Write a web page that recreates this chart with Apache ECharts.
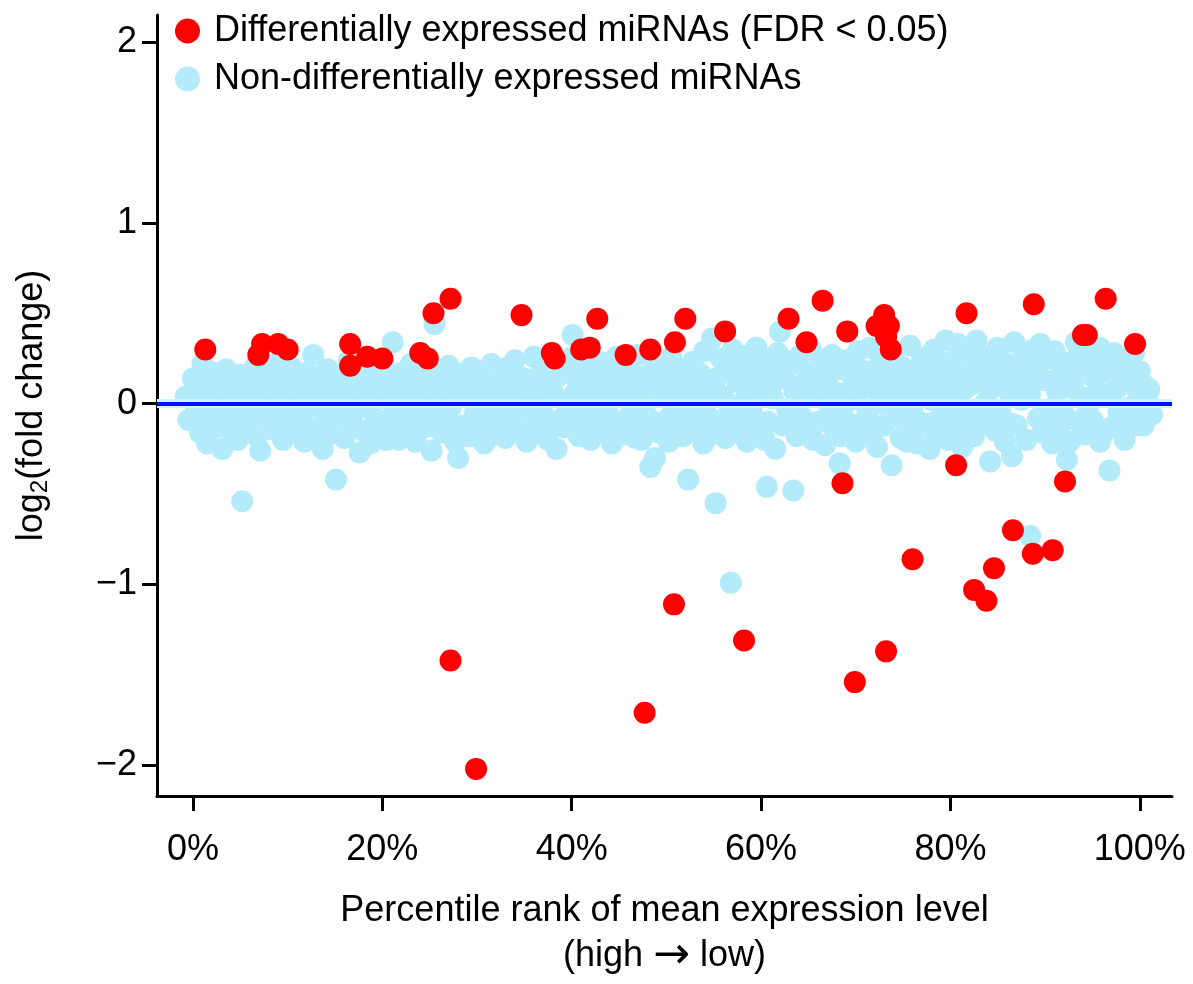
<!DOCTYPE html>
<html>
<head>
<meta charset="utf-8">
<script src="https://cdn.jsdelivr.net/npm/echarts@6/dist/echarts.min.js"></script>
<style>html,body{margin:0;padding:0;background:#fff}#c{width:1193px;height:984px}</style>
</head>
<body>
<div id="c"></div>
<script>
const seriesNames = ['Differentially expressed miRNAs (FDR < 0.05)', 'Non-differentially expressed miRNAs'];
const yTicks = [-2, -1, 0, 1, 2];
const xTicks = [0, 20, 40, 60, 80, 100];

// [percentile rank, log2 fold change]
const deData = [
  [1.3,0.30],[6.9,0.27],[7.3,0.33],[9.0,0.33],[10.0,0.30],[16.6,0.33],[16.6,0.21],[18.4,0.26],[20.0,0.25],
  [24.0,0.28],[24.8,0.25],[25.4,0.50],[27.2,0.58],[34.7,0.49],[37.9,0.28],[38.2,0.25],[41.0,0.30],[41.9,0.31],
  [42.7,0.47],[45.7,0.27],[48.3,0.30],[50.9,0.34],[52.0,0.47],[56.2,0.40],[62.9,0.47],[64.8,0.34],[66.5,0.57],
  [69.1,0.40],[72.2,0.43],[73.0,0.49],[73.5,0.43],[73.2,0.37],[73.7,0.30],[81.7,0.50],[88.8,0.55],[94.0,0.38],
  [94.4,0.38],[96.4,0.58],[99.5,0.33],
  [68.6,-0.44],[80.6,-0.34],[92.1,-0.43],[76.0,-0.86],[86.6,-0.70],[88.7,-0.83],[90.8,-0.81],[82.5,-1.03],
  [83.8,-1.09],[84.6,-0.91],[50.8,-1.11],[58.2,-1.31],[73.2,-1.37],[69.9,-1.54],[27.2,-1.42],[47.7,-1.71],[29.9,-2.02]
];

const nonDeData = [
  [-0.75,0.04],[-0.5,-0.09],
  [0,0.14],[0.25,-0.05],[0.5,0.08],[0.75,-0.16],[1,0.22],[1.25,0.02],[1.5,-0.22],[1.75,0.11],
  [2,-0.08],[2.25,0.17],[2.5,-0.13],[2.75,0.05],[3,0.09],[3.1,-0.25],[3.5,0.19],[3.75,-0.03],
  [4,-0.15],[4.25,0.12],[4.5,0.01],[4.75,-0.2],[5,0.16],[5.2,-0.54],[5.5,-0.07],[5.75,0.09],
  [6,-0.12],[6.25,0.04],[6.5,0.2],[6.75,-0.18],[7,0.25],[7.1,-0.26],[7.5,0.07],[7.75,-0.06],
  [8,0.14],[8.25,-0.14],[8.5,0.02],[8.75,0.18],[9,-0.09],[9.25,0.24],[9.5,-0.2],[9.75,0.06],
  [10,0.11],[10.25,-0.04],[10.5,-0.16],[10.75,0.15],[11,0.03],[11.25,-0.11],[11.5,0.09],[11.75,-0.21],
  [12,0.17],[12.25,-0.02],[12.7,0.27],[12.75,-0.14],[13,0.06],[13.25,-0.18],[13.7,-0.25],[13.75,0.12],
  [14,-0.07],[14.25,0.19],[14.5,-0.13],[14.75,0.04],[15,0.1],[15.1,-0.42],[15.5,-0.05],[15.75,0.16],
  [16,-0.19],[16.25,0.07],[16.5,0.24],[16.75,-0.1],[17,0.13],[17.25,-0.03],[17.6,-0.27],[17.75,0.05],
  [18,-0.15],[18.25,0.18],[18.5,0.01],[18.75,-0.22],[19,0.09],[19.25,-0.08],[19.5,0.15],[19.75,-0.17],
  [20,0.03],[20.25,0.2],[20.5,-0.12],[20.75,0.08],[21.1,0.34],[21.25,-0.05],[21.5,0.12],[21.75,-0.2],
  [22,0.17],[22.25,-0.1],[22.5,0.05],[22.75,-0.16],[23,0.22],[23.25,0.0],[23.5,-0.21],[23.75,0.1],
  [24,-0.07],[24.25,0.15],[24.5,-0.13],[24.75,0.04],[25.2,-0.26],[25.25,0.19],[25.5,0.44],[25.75,-0.04],
  [26,0.11],[26.25,-0.16],[26.5,0.06],[26.75,-0.09],[27,0.21],[27.25,-0.02],[27.7,-0.21],[27.75,0.13],
  [28,-0.3],[28.25,0.08],[28.5,-0.12],[28.75,0.17],[29,0.03],[29.25,-0.18],[29.5,0.12],[29.75,-0.06],
  [30,0.18],[30.25,-0.14],[30.5,0.05],[30.75,-0.22],[31,0.1],[31.25,-0.04],[31.5,0.22],[31.75,-0.17],
  [32,0.07],[32.25,-0.11],[32.5,0.16],[32.75,0.0],[33,-0.19],[33.25,0.2],[33.5,-0.07],[33.75,0.12],
  [34,0.24],[34.25,-0.15],[34.5,0.04],[34.75,-0.02],[35,0.14],[35.25,-0.21],[35.5,0.09],[35.75,-0.1],
  [36,0.26],[36.25,0.02],[36.5,-0.16],[36.75,0.17],[37,-0.06],[37.25,0.11],[37.5,-0.2],[37.75,0.22],
  [38,0.06],[38.4,-0.25],[38.5,0.15],[38.75,-0.09],[39,0.19],[39.25,-0.13],[39.5,0.02],[39.75,0.25],
  [40.1,0.38],[40.25,-0.05],[40.5,0.14],[40.75,-0.18],[41,0.08],[41.25,0.21],[41.5,-0.11],[41.75,0.0],
  [42,-0.2],[42.25,0.16],[42.5,0.05],[42.75,-0.08],[43,0.23],[43.25,-0.15],[43.5,0.1],[43.75,-0.02],
  [44,0.18],[44.25,-0.22],[44.5,0.07],[44.75,0.26],[45,-0.1],[45.25,0.13],[45.5,-0.17],[45.75,0.04],
  [46,0.2],[46.25,-0.05],[46.5,0.11],[46.75,-0.19],[47,0.27],[47.25,0.02],[47.5,-0.13],[47.75,0.15],
  [48,-0.07],[48.3,-0.35],[48.5,0.09],[48.8,-0.3],[49,0.22],[49.25,-0.16],[49.5,0.05],[49.75,-0.1],
  [50,0.16],[50.25,-0.21],[50.5,0.26],[50.75,0.01],[51,-0.12],[51.25,0.19],[51.5,0.06],[51.75,-0.18],
  [52,0.12],[52.3,-0.42],[52.5,-0.04],[52.75,0.23],[53,0.08],[53.25,-0.15],[53.5,0.17],[53.9,-0.22],
  [54,0.29],[54.25,-0.06],[54.5,0.1],[54.8,0.36],[55.2,-0.55],[55.25,0.14],[55.5,-0.11],[55.75,0.25],
  [56,0.04],[56.25,-0.19],[56.5,0.2],[56.8,-0.99],[57,0.3],[57.25,-0.08],[57.5,0.12],[57.75,-0.16],
  [58,0.22],[58.25,0.02],[58.5,-0.21],[58.75,0.27],[59,-0.05],[59.25,0.16],[59.5,0.31],[59.75,-0.13],
  [60,0.08],[60.25,0.24],[60.6,-0.46],[60.75,-0.1],[61,0.19],[61.25,0.03],[61.5,-0.25],[61.75,0.28],
  [62,0.4],[62.25,-0.12],[62.5,0.14],[62.75,-0.03],[63,0.21],[63.4,-0.48],[63.5,0.07],[63.75,-0.18],
  [64,0.26],[64.25,-0.07],[64.5,0.11],[64.75,-0.15],[65,0.17],[65.25,0.3],[65.5,-0.2],[65.75,0.04],
  [66,-0.1],[66.25,0.22],[66.5,0.09],[66.75,-0.23],[67,0.14],[67.25,-0.04],[67.5,0.27],[67.75,-0.14],
  [68,0.06],[68.3,-0.33],[68.5,0.19],[68.75,-0.08],[69,0.24],[69.25,-0.17],[69.5,0.02],[69.75,0.13],
  [70,-0.21],[70.25,0.29],[70.5,0.08],[70.75,-0.1],[71,0.18],[71.25,-0.03],[71.5,0.31],[71.75,-0.16],
  [72,0.1],[72.25,-0.24],[72.5,0.22],[72.75,0.0],[73,-0.12],[73.25,0.15],[73.8,-0.34],[73.75,0.05],
  [74,0.27],[74.25,-0.07],[74.5,0.12],[74.75,-0.19],[75,0.2],[75.25,0.03],[75.5,-0.14],[75.75,0.32],
  [76,-0.05],[76.25,0.17],[76.5,-0.22],[76.75,0.09],[77,0.25],[77.25,-0.11],[77.8,-0.25],[77.75,0.14],
  [78,0.02],[78.25,0.3],[78.5,-0.17],[78.75,0.19],[79,-0.08],[79.25,0.11],[79.5,0.35],[79.75,-0.2],
  [80,0.23],[80.25,0.05],[80.5,-0.13],[80.75,0.33],[81,0.16],[81.25,-0.24],[81.5,0.08],[81.75,0.28],
  [82,-0.06],[82.25,0.2],[82.5,-0.18],[82.75,0.35],[83,0.12],[83.25,-0.1],[83.5,0.26],[83.75,0.01],
  [84.2,-0.32],[84.25,0.18],[84.5,0.09],[84.75,-0.15],[85,0.31],[85.25,-0.04],[85.5,0.14],[85.75,-0.21],
  [86,0.22],[86.25,0.06],[86.5,-0.29],[86.75,0.34],[87,-0.12],[87.25,0.17],[87.5,0.02],[87.75,0.27],
  [88,-0.2],[88.4,-0.73],[88.5,0.1],[88.75,0.3],[89,0.2],[89.25,-0.08],[89.5,0.33],[89.75,-0.16],
  [90,0.13],[90.25,0.25],[90.5,-0.03],[90.75,-0.22],[91,0.29],[91.25,0.07],[91.5,-0.13],[91.75,0.18],
  [92,-0.06],[92.3,-0.31],[92.6,-0.21],[92.75,0.23],[93,0.11],[93.25,0.34],[93.5,-0.1],[93.75,0.04],
  [94,0.19],[94.25,-0.17],[94.5,0.27],[94.75,0.01],[95,-0.09],[95.25,0.14],[95.8,-0.21],[95.75,0.31],
  [96,0.22],[96.25,0.05],[96.8,-0.37],[96.75,0.17],[97,-0.13],[97.25,0.28],[97.5,0.08],[97.75,-0.05],
  [98,0.2],[98.25,-0.1],[98.5,0.13],[98.75,0.25],[99,-0.02],[99.25,0.16],[99.5,-0.12],[99.75,0.07],
  [100,0.18],[100.25,-0.05],[100.5,0.1],[100.75,0.02],[101,0.08],[101.3,-0.06]
];

const nonDeDataMore = [
  [0.4,0.05],[1.4,-0.1],[2.4,0.12],[3.4,-0.06],[4.4,0.08],[5.4,-0.13],[6.4,0.1],[7.4,-0.02],[8.4,-0.11],[9.4,0.07],
  [10.4,0.2],[11.4,-0.08],[12.4,0.04],[13.4,0.15],[14.4,-0.17],[15.4,0.06],[16.4,-0.05],[17.4,0.19],[18.4,0.09],[19.4,-0.12],
  [20.4,-0.2],[21.4,0.02],[22.4,0.13],[23.4,-0.09],[24.4,0.21],[25.4,0.08],[26.4,-0.14],[27.4,0.1],[28.4,0.04],[29.4,0.2],
  [30.4,-0.08],[31.4,-0.12],[32.4,0.11],[33.4,0.03],[34.4,0.15],[35.4,-0.03],[36.4,0.09],[37.4,-0.13],[38.4,0.2],[39.4,-0.06],
  [40.4,0.06],[41.4,-0.15],[42.4,0.22],[43.4,-0.1],[44.4,0.12],[45.4,0.24],[46.4,-0.11],[47.4,-0.2],[48.4,0.17],[49.4,0.11],
  [50.4,-0.07],[51.4,0.1],[52.4,-0.15],[53.4,0.02],[54.4,-0.18],[55.4,0.06],[56.4,-0.07],[57.4,0.19],[58.4,-0.11],[59.4,0.09],
  [60.4,-0.2],[61.4,0.12],[62.4,0.24],[63.4,-0.09],[64.4,0.05],[65.4,-0.13],[66.4,0.16],[67.4,0.07],[68.4,-0.18],[69.4,0.2],
  [70.4,0.14],[71.4,-0.09],[72.4,0.06],[73.4,0.25],[74.4,-0.03],[75.4,-0.21],[76.4,0.1],[77.4,0.04],[78.4,-0.1],[79.4,0.2],
  [80.4,-0.05],[81.4,-0.16],[82.4,0.11],[83.4,0.18],[84.4,-0.07],[85.4,0.24],[86.4,-0.11],[87.4,0.1],[88.4,0.05],[89.4,0.15],
  [90.4,-0.1],[91.4,-0.2],[92.4,0.09],[93.4,0.2],[94.4,-0.06],[95.4,0.06],[96.4,-0.15],[97.4,0.16],[98.4,-0.2],[99.4,0.28],
  [100.4,-0.12]
];

const FONT = '"Liberation Sans", Arial, Helvetica, sans-serif';
const FS = 36;
const chart = echarts.init(document.getElementById('c'), null, {renderer: 'canvas'});
chart.setOption({
  animation: false,
  backgroundColor: '#fff',
  textStyle: {fontFamily: FONT, color: '#000'},
  grid: {left: 157, right: 21, top: 15, bottom: 181, containLabel: false},
  legend: {
    orient: 'vertical', left: 175, top: 13, padding: 0,
    data: seriesNames, icon: 'circle', itemWidth: 25, itemHeight: 25, itemGap: 12,
    textStyle: {fontFamily: FONT, fontSize: FS, color: '#000', padding: [0, 0, 0, 9]}
  },
  xAxis: {
    type: 'value', min: -3.8, max: 103.4,
    splitLine: {show: false},
    axisLine: {show: true, onZero: false, lineStyle: {color: '#000', width: 3}},
    axisTick: {show: true, length: 15, lineStyle: {color: '#000', width: 3}, customValues: xTicks},
    axisLabel: {fontFamily: FONT, fontSize: FS, color: '#000', margin: 36, customValues: xTicks,
      formatter: v => v + '%'},
    name: '{t|Percentile rank of mean expression level}\n{t|(high }{ar|\u2192}{t| low)}',
    nameLocation: 'middle', nameGap: 93,
    nameTextStyle: {
      fontFamily: FONT, fontSize: FS, color: '#000', lineHeight: 45, verticalAlign: 'top',
      rich: {
        t: {fontFamily: FONT, fontSize: FS, color: '#000', lineHeight: 45},
        ar: {fontFamily: '"DejaVu Sans", sans-serif', fontSize: 44, color: '#000', lineHeight: 45}
      }
    }
  },
  yAxis: {
    type: 'value', min: -2.17, max: 2.15,
    splitLine: {show: false},
    axisLine: {show: true, onZero: false, lineStyle: {color: '#000', width: 3}},
    axisTick: {show: true, length: 15, lineStyle: {color: '#000', width: 3}, customValues: yTicks},
    axisLabel: {fontFamily: FONT, fontSize: FS, color: '#000', margin: 20, customValues: yTicks,
      formatter: v => (v < 0 ? '\u2212' + Math.abs(v) : String(v))},
    name: '{a|log}{s|2}{a|(fold change)}',
    nameLocation: 'middle', nameGap: 105,
    nameTextStyle: {
      fontFamily: FONT, fontSize: FS, color: '#000',
      rich: {
        a: {fontFamily: FONT, fontSize: FS, color: '#000', lineHeight: 40},
        s: {fontFamily: FONT, fontSize: 24, color: '#000', lineHeight: 40, padding: [16, 0, 0, 0]}
      }
    }
  },
  series: [
    {
      name: seriesNames[1], type: 'scatter', data: nonDeData.concat(nonDeDataMore), symbolSize: 22, z: 2,
      itemStyle: {color: '#b3ebfb', opacity: 1},
      markLine: {
        silent: true, symbol: 'none', label: {show: false},
        data: [
          {yAxis: 0, lineStyle: {color: '#c6f6ff', width: 9, type: 'solid'}},
          {yAxis: 0, lineStyle: {color: '#0a0aff', width: 4, type: 'solid'}}
        ]
      }
    },
    {
      name: seriesNames[0], type: 'scatter', data: deData, symbolSize: 22, z: 5,
      itemStyle: {color: '#ff0000', opacity: 1}
    }
  ]
});
</script>
</body>
</html>
